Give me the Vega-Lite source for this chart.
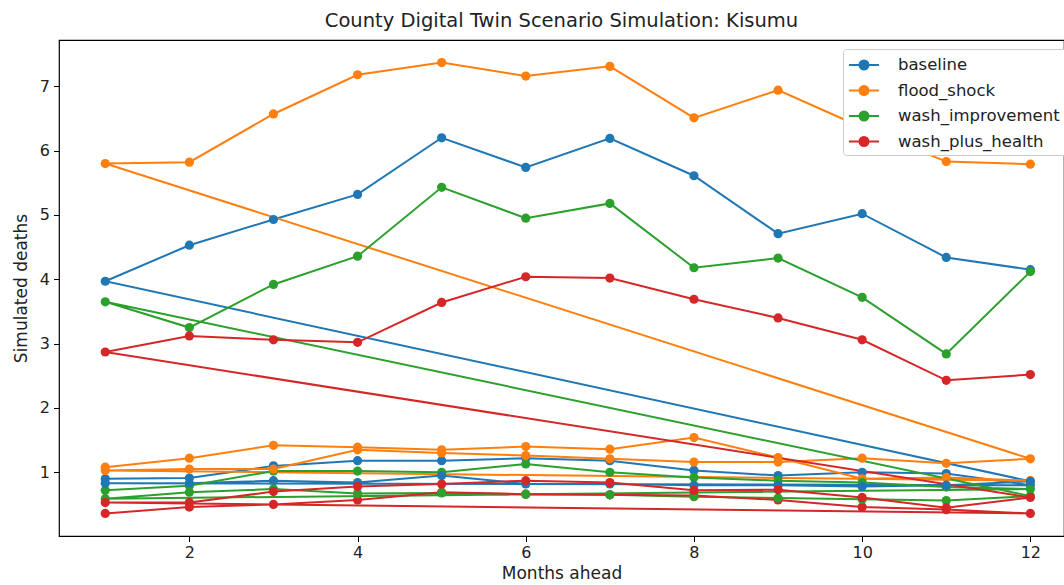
{
  "$schema": "https://vega.github.io/schema/vega-lite/v6.json",
  "width": 1005,
  "height": 496,
  "autosize": {"type": "none"},
  "padding": {"left": 59, "top": 40, "right": 0, "bottom": 49},
  "background": "white",
  "title": {"text": "County Digital Twin Scenario Simulation: Kisumu", "fontSize": 19.5, "fontWeight": "normal", "font": "DejaVu Sans", "color": "#222", "offset": 9, "anchor": "middle"},
  "config": {
    "view": {"stroke": "black", "strokeWidth": 1.2},
    "axis": {"grid": false, "domain": false, "tickColor": "black", "tickSize": 5.5, "labelFont": "DejaVu Sans", "labelFontSize": 16, "labelColor": "#222", "titleFont": "DejaVu Sans", "titleFontSize": 17, "titleFontWeight": "normal", "titleColor": "#222"},
    "legend": {"labelFont": "DejaVu Sans", "labelFontSize": 16.5, "labelColor": "#222", "labelLimit": 400}
  },
  "data": {"values": [
    {"s":"baseline","i":1,"m":1,"v":0.90},{"s":"baseline","i":2,"m":2,"v":0.91},{"s":"baseline","i":3,"m":3,"v":1.10},{"s":"baseline","i":4,"m":4,"v":1.18},{"s":"baseline","i":5,"m":5,"v":1.18},{"s":"baseline","i":6,"m":6,"v":1.22},{"s":"baseline","i":7,"m":7,"v":1.18},{"s":"baseline","i":8,"m":8,"v":1.03},{"s":"baseline","i":9,"m":9,"v":0.95},{"s":"baseline","i":10,"m":10,"v":1.00},{"s":"baseline","i":11,"m":11,"v":0.98},{"s":"baseline","i":12,"m":12,"v":0.80},
    {"s":"baseline","i":13,"m":1,"v":0.83},{"s":"baseline","i":14,"m":2,"v":0.83},{"s":"baseline","i":15,"m":3,"v":0.87},{"s":"baseline","i":16,"m":4,"v":0.84},{"s":"baseline","i":17,"m":5,"v":0.95},{"s":"baseline","i":18,"m":6,"v":0.82},{"s":"baseline","i":19,"m":7,"v":0.82},{"s":"baseline","i":20,"m":8,"v":0.80},{"s":"baseline","i":21,"m":9,"v":0.80},{"s":"baseline","i":22,"m":10,"v":0.78},{"s":"baseline","i":23,"m":11,"v":0.80},{"s":"baseline","i":24,"m":12,"v":0.86},
    {"s":"baseline","i":25,"m":1,"v":3.97},{"s":"baseline","i":26,"m":2,"v":4.53},{"s":"baseline","i":27,"m":3,"v":4.93},{"s":"baseline","i":28,"m":4,"v":5.32},{"s":"baseline","i":29,"m":5,"v":6.20},{"s":"baseline","i":30,"m":6,"v":5.74},{"s":"baseline","i":31,"m":7,"v":6.19},{"s":"baseline","i":32,"m":8,"v":5.61},{"s":"baseline","i":33,"m":9,"v":4.71},{"s":"baseline","i":34,"m":10,"v":5.02},{"s":"baseline","i":35,"m":11,"v":4.34},{"s":"baseline","i":36,"m":12,"v":4.15},
    {"s":"flood_shock","i":1,"m":1,"v":1.08},{"s":"flood_shock","i":2,"m":2,"v":1.22},{"s":"flood_shock","i":3,"m":3,"v":1.42},{"s":"flood_shock","i":4,"m":4,"v":1.39},{"s":"flood_shock","i":5,"m":5,"v":1.35},{"s":"flood_shock","i":6,"m":6,"v":1.40},{"s":"flood_shock","i":7,"m":7,"v":1.36},{"s":"flood_shock","i":8,"m":8,"v":1.54},{"s":"flood_shock","i":9,"m":9,"v":1.23},{"s":"flood_shock","i":10,"m":10,"v":0.90},{"s":"flood_shock","i":11,"m":11,"v":0.92},{"s":"flood_shock","i":12,"m":12,"v":0.87},
    {"s":"flood_shock","i":13,"m":1,"v":1.03},{"s":"flood_shock","i":14,"m":2,"v":1.05},{"s":"flood_shock","i":15,"m":3,"v":1.05},{"s":"flood_shock","i":16,"m":4,"v":1.35},{"s":"flood_shock","i":17,"m":5,"v":1.30},{"s":"flood_shock","i":18,"m":6,"v":1.26},{"s":"flood_shock","i":19,"m":7,"v":1.21},{"s":"flood_shock","i":20,"m":8,"v":1.16},{"s":"flood_shock","i":21,"m":9,"v":1.16},{"s":"flood_shock","i":22,"m":10,"v":1.22},{"s":"flood_shock","i":23,"m":11,"v":1.14},{"s":"flood_shock","i":24,"m":12,"v":1.21},
    {"s":"flood_shock","i":25,"m":1,"v":5.80},{"s":"flood_shock","i":26,"m":2,"v":5.82},{"s":"flood_shock","i":27,"m":3,"v":6.57},{"s":"flood_shock","i":28,"m":4,"v":7.18},{"s":"flood_shock","i":29,"m":5,"v":7.37},{"s":"flood_shock","i":30,"m":6,"v":7.16},{"s":"flood_shock","i":31,"m":7,"v":7.31},{"s":"flood_shock","i":32,"m":8,"v":6.51},{"s":"flood_shock","i":33,"m":9,"v":6.94},{"s":"flood_shock","i":34,"m":10,"v":6.36},{"s":"flood_shock","i":35,"m":11,"v":5.83},{"s":"flood_shock","i":36,"m":12,"v":5.79},
    {"s":"wash_improvement","i":1,"m":1,"v":0.72},{"s":"wash_improvement","i":2,"m":2,"v":0.79},{"s":"wash_improvement","i":3,"m":3,"v":1.02},{"s":"wash_improvement","i":4,"m":4,"v":1.02},{"s":"wash_improvement","i":5,"m":5,"v":1.00},{"s":"wash_improvement","i":6,"m":6,"v":1.13},{"s":"wash_improvement","i":7,"m":7,"v":1.00},{"s":"wash_improvement","i":8,"m":8,"v":0.92},{"s":"wash_improvement","i":9,"m":9,"v":0.87},{"s":"wash_improvement","i":10,"m":10,"v":0.84},{"s":"wash_improvement","i":11,"m":11,"v":0.77},{"s":"wash_improvement","i":12,"m":12,"v":0.74},
    {"s":"wash_improvement","i":13,"m":1,"v":0.59},{"s":"wash_improvement","i":14,"m":2,"v":0.69},{"s":"wash_improvement","i":15,"m":3,"v":0.74},{"s":"wash_improvement","i":16,"m":4,"v":0.67},{"s":"wash_improvement","i":17,"m":5,"v":0.68},{"s":"wash_improvement","i":18,"m":6,"v":0.66},{"s":"wash_improvement","i":19,"m":7,"v":0.65},{"s":"wash_improvement","i":20,"m":8,"v":0.62},{"s":"wash_improvement","i":21,"m":9,"v":0.60},{"s":"wash_improvement","i":22,"m":10,"v":0.58},{"s":"wash_improvement","i":23,"m":11,"v":0.56},{"s":"wash_improvement","i":24,"m":12,"v":0.63},
    {"s":"wash_improvement","i":25,"m":1,"v":3.65},{"s":"wash_improvement","i":26,"m":2,"v":3.25},{"s":"wash_improvement","i":27,"m":3,"v":3.92},{"s":"wash_improvement","i":28,"m":4,"v":4.36},{"s":"wash_improvement","i":29,"m":5,"v":5.43},{"s":"wash_improvement","i":30,"m":6,"v":4.95},{"s":"wash_improvement","i":31,"m":7,"v":5.18},{"s":"wash_improvement","i":32,"m":8,"v":4.18},{"s":"wash_improvement","i":33,"m":9,"v":4.33},{"s":"wash_improvement","i":34,"m":10,"v":3.72},{"s":"wash_improvement","i":35,"m":11,"v":2.84},{"s":"wash_improvement","i":36,"m":12,"v":4.12},
    {"s":"wash_plus_health","i":1,"m":1,"v":0.36},{"s":"wash_plus_health","i":2,"m":2,"v":0.46},{"s":"wash_plus_health","i":3,"m":3,"v":0.50},{"s":"wash_plus_health","i":4,"m":4,"v":0.57},{"s":"wash_plus_health","i":5,"m":5,"v":0.69},{"s":"wash_plus_health","i":6,"m":6,"v":0.66},{"s":"wash_plus_health","i":7,"m":7,"v":0.65},{"s":"wash_plus_health","i":8,"m":8,"v":0.64},{"s":"wash_plus_health","i":9,"m":9,"v":0.57},{"s":"wash_plus_health","i":10,"m":10,"v":0.46},{"s":"wash_plus_health","i":11,"m":11,"v":0.42},{"s":"wash_plus_health","i":12,"m":12,"v":0.36},
    {"s":"wash_plus_health","i":13,"m":1,"v":0.53},{"s":"wash_plus_health","i":14,"m":2,"v":0.53},{"s":"wash_plus_health","i":15,"m":3,"v":0.70},{"s":"wash_plus_health","i":16,"m":4,"v":0.78},{"s":"wash_plus_health","i":17,"m":5,"v":0.82},{"s":"wash_plus_health","i":18,"m":6,"v":0.87},{"s":"wash_plus_health","i":19,"m":7,"v":0.84},{"s":"wash_plus_health","i":20,"m":8,"v":0.72},{"s":"wash_plus_health","i":21,"m":9,"v":0.73},{"s":"wash_plus_health","i":22,"m":10,"v":0.61},{"s":"wash_plus_health","i":23,"m":11,"v":0.45},{"s":"wash_plus_health","i":24,"m":12,"v":0.61},
    {"s":"wash_plus_health","i":25,"m":1,"v":2.87},{"s":"wash_plus_health","i":26,"m":2,"v":3.12},{"s":"wash_plus_health","i":27,"m":3,"v":3.06},{"s":"wash_plus_health","i":28,"m":4,"v":3.02},{"s":"wash_plus_health","i":29,"m":5,"v":3.64},{"s":"wash_plus_health","i":30,"m":6,"v":4.04},{"s":"wash_plus_health","i":31,"m":7,"v":4.02},{"s":"wash_plus_health","i":32,"m":8,"v":3.69},{"s":"wash_plus_health","i":33,"m":9,"v":3.40},{"s":"wash_plus_health","i":34,"m":10,"v":3.06},{"s":"wash_plus_health","i":35,"m":11,"v":2.43},{"s":"wash_plus_health","i":36,"m":12,"v":2.52}
  ]},
  "encoding": {
    "x": {"field": "m", "type": "quantitative", "scale": {"domain": [0.45, 12.4], "nice": false, "zero": false}, "axis": {"values": [2,4,6,8,10,12], "title": "Months ahead", "titlePadding": 5, "labelPadding": 3}},
    "y": {"field": "v", "type": "quantitative", "scale": {"domain": [0.01, 7.72], "nice": false, "zero": false}, "axis": {"values": [1,2,3,4,5,6,7], "title": "Simulated deaths", "titlePadding": 9, "labelPadding": 4}},
    "color": {"field": "s", "type": "nominal", "scale": {"domain": ["baseline","flood_shock","wash_improvement","wash_plus_health"], "range": ["#1f77b4","#ff7f0e","#2ca02c","#d62728"]},
      "legend": {"title": null, "orient": "none", "legendX": 784, "legendY": 9, "padding": 5, "fillColor": "white", "strokeColor": "#cccccc", "cornerRadius": 3, "symbolType": "M-1.5,0L1.5,0M-0.45,0A0.45,0.45,0,1,1,0.45,0A0.45,0.45,0,1,1,-0.45,0Z", "symbolSize": 400, "symbolStrokeWidth": 2, "labelOffset": 28, "rowPadding": 5.5, "offset": 0,
        "encode": {"symbols": {"update": {"fill": {"scale": "color", "field": "value"}, "fillOpacity": {"value": 1}, "xc": {"value": 16}}}}}},
    "order": {"field": "i", "type": "quantitative"}
  },
  "layer": [
    {"mark": {"type": "line", "strokeWidth": 2}},
    {"mark": {"type": "point", "filled": true, "size": 85, "opacity": 1}}
  ]
}
